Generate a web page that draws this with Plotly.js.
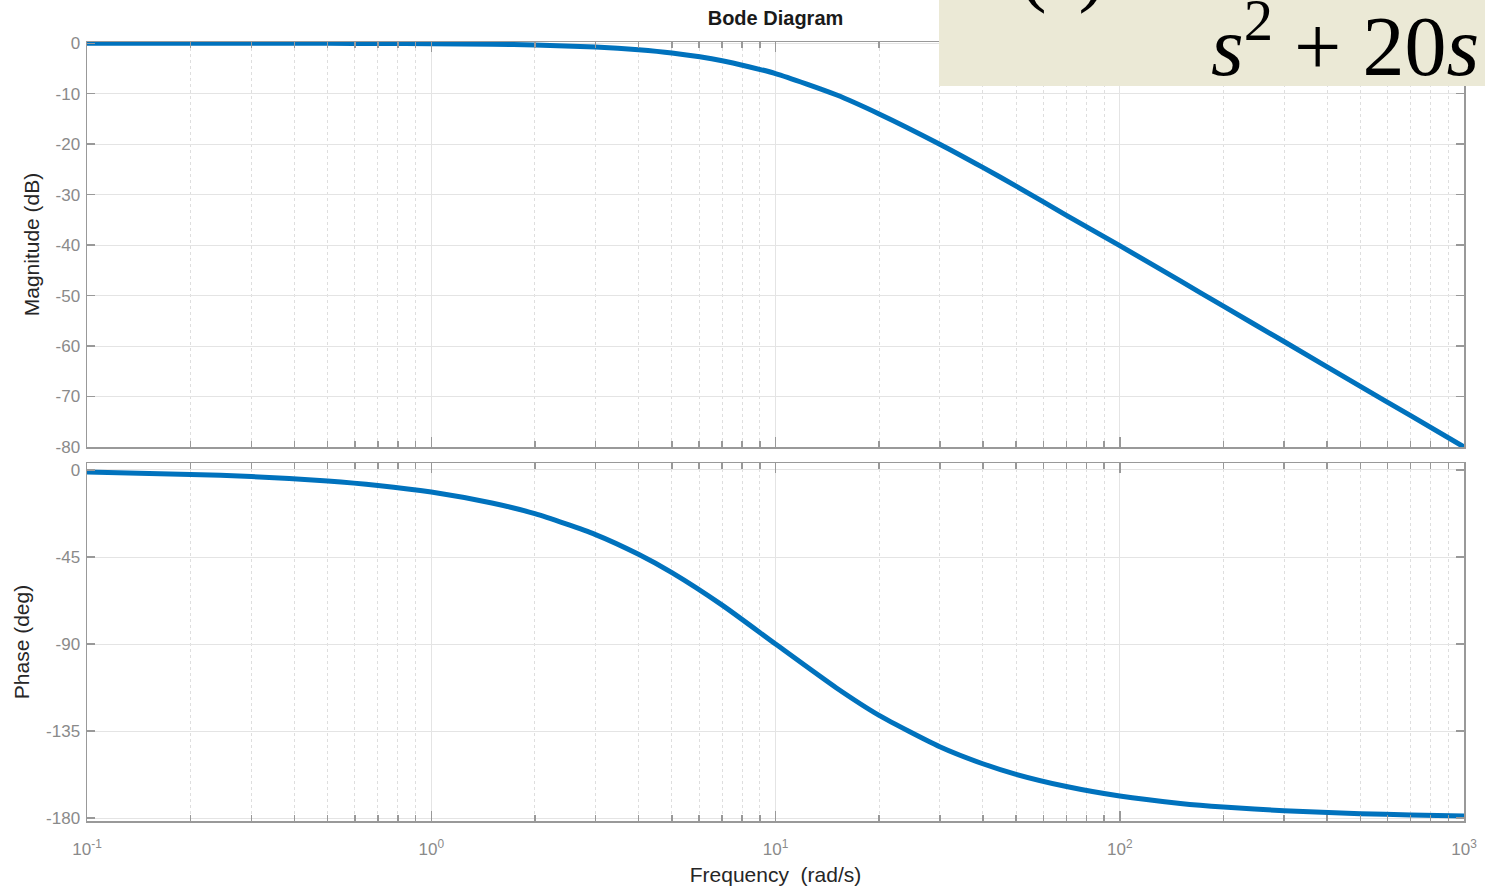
<!DOCTYPE html>
<html>
<head>
<meta charset="utf-8">
<script src="https://cdn.plot.ly/plotly-3.0.1.min.js"></script>
<style>html,body{margin:0;padding:0;background:#fff;}#chart{width:1485px;height:890px;}</style>
</head>
<body>
<div id="chart"></div>
<script>
// Frequencies (rad/s)
const freq = [0.1, 0.2, 0.3, 0.5, 0.7, 1, 1.5, 2, 3, 4, 5, 7, 10, 15, 20, 30, 40, 50, 70, 100, 150, 200, 300, 500, 700, 1000];
// Magnitude (dB)
const magDb = [0, 0, -0.01, -0.02, -0.04, -0.09, -0.19, -0.34, -0.75, -1.29, -1.94, -3.46, -6.0, -10.2, -14.0, -20.0, -24.6, -28.3, -34.1, -40.1, -47.1, -52.1, -59.1, -68.0, -73.8, -80.0];
// Phase (deg)
const phaseDeg = [-1.1, -2.3, -3.4, -5.7, -8.0, -11.4, -17.1, -22.6, -33.4, -43.6, -53.1, -69.9, -90.0, -112.6, -126.9, -143.1, -151.9, -157.4, -163.7, -168.6, -172.4, -174.3, -176.2, -177.7, -178.4, -178.9];

const xTickVals = [0.1, 1, 10, 100, 1000];
const xTickText = ['10<sup>-1</sup>', '10<sup>0</sup>', '10<sup>1</sup>', '10<sup>2</sup>', '10<sup>3</sup>'];
const magTicks = [0, -10, -20, -30, -40, -50, -60, -70, -80];
const magTickText = ['0', '-10', '-20', '-30', '-40', '-50', '-60', '-70', '-80'];
const phaseTicks = [0, -45, -90, -135, -180];
const phaseTickText = ['0', '-45', '-90', '-135', '-180'];
const minorDigits = [2, 3, 4, 5, 6, 7, 8, 9];

const minorVals = [];
xTickVals.slice(0, -1).forEach(d => minorDigits.forEach(k => minorVals.push(+(d * k).toPrecision(3))));

const lineColor = '#0072BD';
const frameColor = '#999999';
const sans = 'Liberation Sans, Arial, sans-serif';
const tickFont = {family: sans, size: 17, color: '#8a8a8a'};
const titleFont = {family: sans, size: 21, color: '#262626'};

function xAxis(showLabels, anchor) {
  return {
    type: 'log', range: [-1, 3], anchor: anchor,
    tickmode: 'array', tickvals: xTickVals, ticktext: xTickText,
    showticklabels: showLabels, tickfont: tickFont, ticklabelstandoff: 12,
    ticks: 'inside', ticklen: 10, tickcolor: frameColor, tickwidth: 1.5,
    showline: true, linecolor: frameColor, linewidth: 1.5, mirror: 'ticks',
    showgrid: true, gridcolor: '#e4e4e4', gridwidth: 1,
    zeroline: false,
    minor: {tickmode: 'array', tickvals: minorVals, ticks: 'inside', ticklen: 6, tickcolor: frameColor,
            showgrid: true, gridcolor: '#dedede', griddash: 'dot', gridwidth: 1}
  };
}
function yAxis(range, ticks, text, title, domain, anchor, standoff) {
  return {
    range: range, domain: domain, anchor: anchor,
    tickmode: 'array', tickvals: ticks, ticktext: text, tickfont: tickFont, ticklabelstandoff: 2,
    ticks: 'inside', ticklen: 8, tickcolor: frameColor, tickwidth: 1.5,
    showline: true, linecolor: frameColor, linewidth: 1.5, mirror: 'ticks',
    showgrid: true, gridcolor: '#e4e4e4', gridwidth: 1, zeroline: false,
    title: {text: title, font: titleFont, standoff: standoff}
  };
}

const traces = [
  {x: freq, y: magDb, xaxis: 'x', yaxis: 'y', mode: 'lines', line: {color: lineColor, width: 5, shape: 'spline', smoothing: 0.6}, hoverinfo: 'skip'},
  {x: freq, y: phaseDeg, xaxis: 'x2', yaxis: 'y2', mode: 'lines', line: {color: lineColor, width: 5, shape: 'spline', smoothing: 0.6}, hoverinfo: 'skip'}
];

const W = 1485, H = 890, L = 87, R = 21, T = 42, B = 69;
const plotW = W - L - R, plotH = H - T - B;
const px = v => (v - L) / plotW;
const py = v => (H - B - v) / plotH;

const xa1 = xAxis(false, 'y');
const xa2 = xAxis(true, 'y2');
xa2.matches = 'x';
xa2.title = {text: 'Frequency  (rad/s)', font: titleFont, standoff: 9};

const layout = {
  width: W, height: H,
  margin: {l: L, r: R, t: T, b: B},
  paper_bgcolor: '#ffffff', plot_bgcolor: '#ffffff',
  showlegend: false,
  title: {text: '<b>Bode Diagram</b>', font: {family: sans, size: 20, color: '#1a1a1a'},
          x: 0.5, xref: 'paper', xanchor: 'center', y: 1 - 18 / H, yref: 'container', yanchor: 'middle'},
  xaxis: xa1,
  yaxis: yAxis([-80, 0.25], magTicks, magTickText, 'Magnitude (dB)', [py(447), 1], 'x', 10),
  xaxis2: xa2,
  yaxis2: yAxis([-181.5, 3.6], phaseTicks, phaseTickText, 'Phase (deg)', [0, py(463)], 'x2', 10),
  shapes: [
    {type: 'rect', xref: 'paper', yref: 'paper', x0: px(939), x1: px(1490), y0: py(86), y1: py(-5),
     fillcolor: '#EBE9D6', line: {width: 0}, layer: 'above'}
  ],
  annotations: [
    {xref: 'paper', yref: 'paper', x: px(1481), y: py(40), xanchor: 'right', yanchor: 'middle',
     text: '<i>s</i><sup>2</sup> + 20<i>s</i>', showarrow: false,
     font: {family: 'Liberation Serif, Times New Roman, serif', size: 84, color: '#000'}},
    {xref: 'paper', yref: 'paper', x: px(958), y: py(-32), xanchor: 'left', yanchor: 'middle',
     text: '<i>G</i>(<i>s</i>) =', showarrow: false,
     font: {family: 'Liberation Serif, Times New Roman, serif', size: 82, color: '#000'}}
  ]
};

Plotly.newPlot('chart', traces, layout, {displayModeBar: false, staticPlot: true});
</script>
</body>
</html>
